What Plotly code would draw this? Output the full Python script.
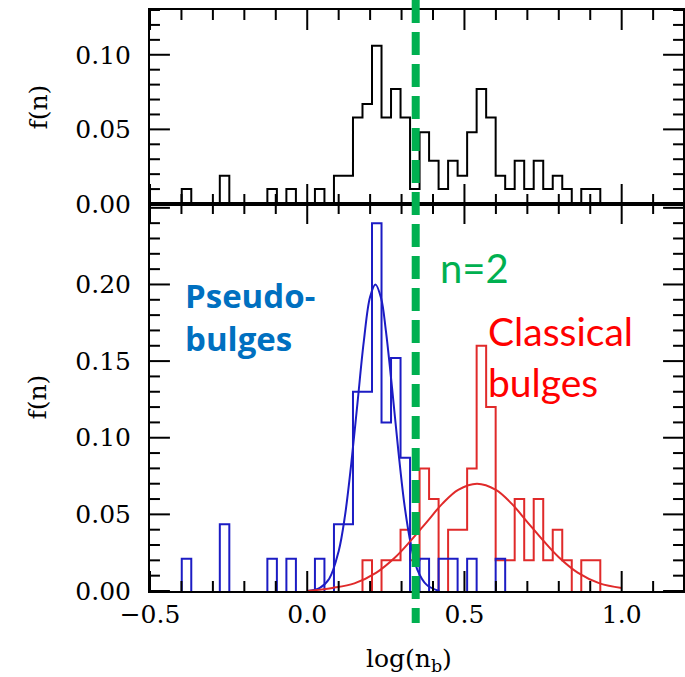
import plotly.graph_objects as go

# ---------------- data ----------------
bin_start = -0.399
bin_width = 0.03025
n_bins = 44

# all bulges (top panel), f(n) per bin
all_f = [0.010, 0, 0, 0, 0.019, 0, 0, 0, 0, 0.010,
         0, 0.010, 0, 0, 0.010, 0, 0.019, 0.019, 0.058, 0.067,
         0.106, 0.058, 0.077, 0.058, 0.010, 0.048, 0.029, 0.010, 0.029, 0.019,
         0.048, 0.077, 0.058, 0.019, 0.010, 0.029, 0.010, 0.029, 0.010, 0.019,
         0.010, 0, 0.010, 0.010]

# pseudo-bulges (blue)
pseudo_f = [0.021, 0, 0, 0, 0.0435, 0, 0, 0, 0, 0.021,
            0, 0.021, 0, 0, 0.021, 0, 0.0435, 0.0435, 0.130, 0.130,
            0.240, 0.110, 0.152, 0.087, 0, 0.021, 0, 0.021, 0.021, 0,
            0.021, 0, 0, 0.021, 0, 0, 0, 0, 0, 0,
            0, 0, 0, 0]

# classical bulges (red)
classical_f = [0, 0, 0, 0, 0, 0, 0, 0, 0, 0,
               0, 0, 0, 0, 0, 0, 0, 0, 0, 0.02,
               0, 0.02, 0.02, 0.04, 0.02, 0.08, 0.06, 0, 0.04, 0.04,
               0.08, 0.16, 0.12, 0.02, 0.02, 0.06, 0.02, 0.06, 0.02, 0.04,
               0.02, 0, 0.02, 0.02]

# fitted curves
pseudo_fit_x = [0.00, 0.04, 0.07, 0.10, 0.12, 0.14, 0.16, 0.18, 0.20, 0.217,
                0.235, 0.25, 0.27, 0.29, 0.31, 0.33, 0.35, 0.38, 0.42]
pseudo_fit_y = [0.000, 0.002, 0.008, 0.026, 0.049, 0.083, 0.123, 0.163, 0.192, 0.200,
                0.191, 0.170, 0.132, 0.091, 0.055, 0.030, 0.014, 0.004, 0.000]
classical_fit_x = [0.00, 0.08, 0.15, 0.22, 0.28, 0.33, 0.38, 0.43, 0.48, 0.54,
                   0.60, 0.65, 0.70, 0.75, 0.80, 0.86, 0.93, 1.00]
classical_fit_y = [0.000, 0.002, 0.005, 0.012, 0.022, 0.033, 0.045, 0.057, 0.066, 0.070,
                   0.066, 0.057, 0.045, 0.033, 0.022, 0.012, 0.005, 0.002]

divider_x = 0.345  # n = 2 line as drawn

x_tick_vals = [-0.5, 0.0, 0.5, 1.0]
top_y_tick_vals = [0.0, 0.05, 0.10]
bot_y_tick_vals = [0.0, 0.05, 0.10, 0.15, 0.20]

# ---------------- helpers ----------------
edges = [bin_start + bin_width * k for k in range(n_bins + 1)]


def outline(vals):
    xs, ys = [], []
    k = 0
    n = len(vals)
    while k < n:
        if vals[k] == 0:
            k += 1
            continue
        xs.append(edges[k]); ys.append(0)
        while k < n and vals[k] != 0:
            xs += [edges[k], edges[k + 1]]
            ys += [vals[k], vals[k]]
            k += 1
        xs.append(edges[k]); ys.append(0)
        xs.append(None); ys.append(None)
    return xs, ys


BLUE = "#1c1cc4"
RED = "#e02a2a"
SERIF = "DejaVu Serif"
X_RANGE = [-0.5, 1.195]
BOT_RANGE = [0, 0.2525]
TOP_RANGE = [0, 0.13]
split = 387 / 581

PLOT_W = 535.0
BOT_H = 387.0
TOP_H = 194.0
px_x = PLOT_W / (X_RANGE[1] - X_RANGE[0])
px_bot = BOT_H / (BOT_RANGE[1] - BOT_RANGE[0])
px_top = TOP_H / (TOP_RANGE[1] - TOP_RANGE[0])
MAJOR_LEN = 20.0
MINOR_LEN = 10.0


def x_tick_marks(y_rng, px_y):
    xs, ys = [], []
    for i in range(-5, 13):
        t = round(i * 0.1, 6)
        if t < X_RANGE[0] - 1e-9 or t > X_RANGE[1]:
            continue
        major = (i % 5 == 0)
        ln = (MAJOR_LEN if major else MINOR_LEN) / px_y
        xs += [t, t, None, t, t, None]
        ys += [y_rng[0], y_rng[0] + ln, None, y_rng[1], y_rng[1] - ln, None]
    return xs, ys


def y_tick_marks(y_rng):
    xs, ys = [], []
    j = 0
    while True:
        t = round(j * 0.01, 6)
        if t > y_rng[1] + 1e-9:
            break
        major = (j % 5 == 0)
        ln = (MAJOR_LEN if major else MINOR_LEN) / px_x
        xs += [X_RANGE[0], X_RANGE[0] + ln, None, X_RANGE[1], X_RANGE[1] - ln, None]
        ys += [t, t, None, t, t, None]
        j += 1
    return xs, ys


fig = go.Figure()
tx, ty = outline(all_f)
fig.add_trace(go.Scatter(x=tx, y=ty, mode="lines", xaxis="x2", yaxis="y2",
                         line=dict(color="black", width=2)))
rx, ry = outline(classical_f)
fig.add_trace(go.Scatter(x=rx, y=ry, mode="lines", line=dict(color=RED, width=2)))
bx, by = outline(pseudo_f)
fig.add_trace(go.Scatter(x=bx, y=by, mode="lines", line=dict(color=BLUE, width=2)))
fig.add_trace(go.Scatter(x=pseudo_fit_x, y=pseudo_fit_y, mode="lines",
                         line=dict(color=BLUE, width=2, shape="spline")))
fig.add_trace(go.Scatter(x=classical_fit_x, y=classical_fit_y, mode="lines",
                         line=dict(color=RED, width=2, shape="spline")))

# inward tick marks on every frame edge
tick_line = dict(color="black", width=2)
kx, ky = x_tick_marks(BOT_RANGE, px_bot)
fig.add_trace(go.Scatter(x=kx, y=ky, mode="lines", line=tick_line, hoverinfo="skip"))
kx, ky = x_tick_marks(TOP_RANGE, px_top)
fig.add_trace(go.Scatter(x=kx, y=ky, mode="lines", line=tick_line, hoverinfo="skip",
                         xaxis="x2", yaxis="y2"))
kx, ky = y_tick_marks(BOT_RANGE)
fig.add_trace(go.Scatter(x=kx, y=ky, mode="lines", line=tick_line, hoverinfo="skip"))
kx, ky = y_tick_marks(TOP_RANGE)
fig.add_trace(go.Scatter(x=kx, y=ky, mode="lines", line=tick_line, hoverinfo="skip",
                         xaxis="x2", yaxis="y2"))

main_line = dict(showline=True, linewidth=2, linecolor="black", mirror=True,
                 ticks="", showgrid=False, zeroline=False)

fig.update_layout(
    template="simple_white",
    width=685, height=677,
    margin=dict(l=150, r=0, t=10, b=86),
    paper_bgcolor="white", plot_bgcolor="white",
    showlegend=False,
    xaxis=dict(**main_line, anchor="y", domain=[0, 1], range=X_RANGE,
               tickmode="array", tickvals=x_tick_vals, tickformat=".1f",
               tickfont=dict(family=SERIF, size=25, color="black")),
    xaxis2=dict(**main_line, anchor="y2", domain=[0, 1], range=X_RANGE,
                showticklabels=False),
    yaxis=dict(**main_line, anchor="x", domain=[0, split], range=BOT_RANGE,
               tickmode="array", tickvals=bot_y_tick_vals, tickformat=".2f",
               tickfont=dict(family=SERIF, size=25, color="black"), ticklabelstandoff=12),
    yaxis2=dict(**main_line, anchor="x2", domain=[split, 1], range=TOP_RANGE,
                tickmode="array", tickvals=top_y_tick_vals, tickformat=".2f",
                tickfont=dict(family=SERIF, size=25, color="black"), ticklabelstandoff=12),
)

fig.add_shape(type="line", xref="x", yref="paper", x0=divider_x, x1=divider_x,
              y0=1.0172, y1=-0.055, layer="above", opacity=1,
              line=dict(color="#00b050", width=8, dash="23px,9px"))

for yc in (0.833, 0.334):
    fig.add_annotation(xref="paper", yref="paper", x=-0.211, y=yc, text="f(n)",
                       textangle=-90, showarrow=False, xanchor="center", yanchor="middle",
                       font=dict(family=SERIF, size=25, color="black"))
fig.add_annotation(xref="paper", yref="paper", x=0.486, y=-0.119,
                   text="log(n<sub>b</sub>)", showarrow=False,
                   xanchor="center", yanchor="middle",
                   font=dict(family=SERIF, size=25, color="black"))
fig.add_annotation(xref="x", yref="y", x=-0.395, y=0.179, text="<b>Pseudo-<br>bulges</b>",
                   showarrow=False, xanchor="left", yanchor="middle", align="left",
                   font=dict(family="Open Sans", size=33, color="#0070c0"))
fig.add_annotation(xref="x", yref="y", x=0.567, y=0.153, text="Classical<br>bulges",
                   showarrow=False, xanchor="left", yanchor="middle", align="left",
                   font=dict(family="Lato", size=39, color="#ff0000"))
fig.add_annotation(xref="x", yref="y", x=0.417, y=0.211, text="n=2",
                   showarrow=False, xanchor="left", yanchor="middle",
                   font=dict(family="Lato", size=40, color="#00b050"))

fig.write_html("out.html")
